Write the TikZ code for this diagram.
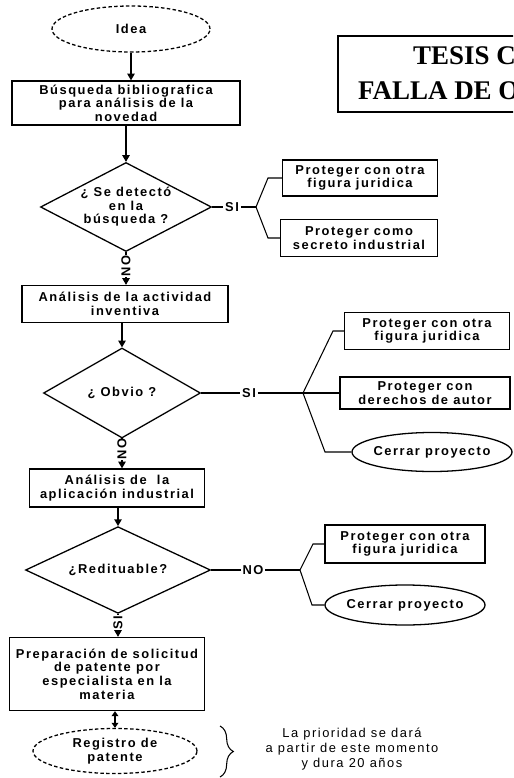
\documentclass[tikz,border=0pt]{standalone}
\usepackage{fontspec}
\setmainfont{Liberation Sans}
\newfontfamily\flujo[LetterSpace=12]{Liberation Sans}
\newfontfamily\sello{Liberation Serif}
\usetikzlibrary{shapes.geometric,arrows.meta,decorations.pathreplacing}

\tikzset{
  texto/.style={font=\flujo\bfseries\fontsize{11}{11.6}\selectfont},
  caja/.style={texto, draw, line width=1.1pt, align=center, inner sep=1pt},
  decision/.style={texto, draw, diamond, line width=1.1pt, align=center, inner sep=0pt},
  terminal/.style={texto, draw, ellipse, line width=1.1pt, align=center, inner xsep=-7mm, inner ysep=-2mm},
  etiqueta/.style={texto, inner sep=1.5pt},
  vertical/.style={texto, inner sep=0.5pt, rotate=90},
  flecha/.style={line width=1.1pt, -{Triangle[length=2mm,width=2.2mm]}},
  rama/.style={line width=0.9pt},
}

\begin{document}
\begin{tikzpicture}[x=0.3mm, y=-0.3mm]
  \useasboundingbox (0,0) rectangle (513,778);

  \begin{scope}
    \clip (0,0) rectangle (513,778);
    \draw[line width=1.1pt] (338,36) rectangle (600,112);
    \node[anchor=base west, inner sep=0pt, font=\sello\bfseries\fontsize{23}{23}\selectfont] (tesis) at (413,65) {TESIS CON};
    \node[anchor=base west, inner sep=0pt, font=\sello\bfseries\fontsize{23}{23}\selectfont] (falla) at (358,100) {FALLA DE ORIGEN};
  \end{scope}

  \node[terminal, densely dashed, minimum width=47.4mm, minimum height=13.8mm] (idea) at (131,29) {Idea};
  \node[caja, minimum width=68.4mm, minimum height=13.2mm] (busq) at (126,103)
    {Búsqueda bibliografica\\para análisis de la\\novedad};
  \node[decision, shape aspect=1.9, minimum width=51.3mm, minimum height=26.7mm] (dec1) at (126,207)
    {¿ Se detectó\\en la\\búsqueda ?};
  \node[caja, minimum width=46.5mm, minimum height=10.8mm] (prot1) at (360,178)
    {Proteger con otra\\figura juridica};
  \node[caja, minimum width=47.1mm, minimum height=11.1mm] (secr) at (359,238)
    {Proteger como\\secreto industrial};
  \node[etiqueta] (si1) at (232,207) {SI};
  \node[vertical] (no1) at (126,266) {NO};
  \coordinate (b1) at (256,207);
  \coordinate (b1a) at (268,178);
  \coordinate (b1b) at (268,238);

  \node[caja, minimum width=61.8mm, minimum height=11.1mm] (act) at (125,304)
    {Análisis de la actividad\\inventiva};
  \node[decision, shape aspect=1.7, minimum width=47.1mm, minimum height=27mm] (dec2) at (122,393)
    {¿ Obvio ?};
  \node[caja, minimum width=49.5mm, minimum height=11.1mm] (prot2) at (427,331)
    {Proteger con otra\\figura juridica};
  \node[caja, minimum width=51mm, minimum height=9.6mm] (der) at (425,393)
    {Proteger con\\derechos de autor};
  \node[terminal, minimum width=48mm, minimum height=11.7mm] (cerr1) at (432,452) {Cerrar\ proyecto};
  \node[etiqueta] (si2) at (249,393) {SI};
  \node[vertical] (no2) at (122,449) {NO};
  \coordinate (b2) at (303,393);
  \coordinate (b2a) at (333,331);
  \coordinate (b2b) at (325,452);

  \node[caja, minimum width=52.5mm, minimum height=11.4mm] (apl) at (117,488)
    {Análisis de\ \ la\\aplicación industrial};
  \node[decision, shape aspect=2, minimum width=55.5mm, minimum height=26mm] (dec3) at (118,570)
    {¿Redituable?};
  \node[caja, minimum width=48mm, minimum height=11.4mm] (prot3) at (405,544)
    {Proteger con otra\\figura juridica};
  \node[terminal, minimum width=48mm, minimum height=12mm] (cerr2) at (405,605) {Cerrar\ proyecto};
  \node[etiqueta] (no3) at (253,570) {NO};
  \node[vertical] (si3) at (118,623) {SI};
  \coordinate (b3) at (300,570);
  \coordinate (b3a) at (313,544);
  \coordinate (b3b) at (312,605);

  \node[caja, minimum width=58.5mm, minimum height=21.9mm] (prep) at (107,674)
    {Preparación de solicitud\\de patente por\\especialista en la\\materia};
  \node[terminal, densely dashed, minimum width=49.2mm, minimum height=13.5mm] (reg) at (115,751)
    {Registro de\\patente};
  \coordinate (ll1) at (220,726);
  \coordinate (ll2) at (220,777);
  \node[align=center, font=\flujo\fontsize{11}{12.8}\selectfont] (nota) at (352,749)
    {La prioridad se dará\\a partir de este momento\\y dura 20 años};

  \draw[flecha] (idea.south) -- (idea.south |- busq.north);
  \draw[flecha] (busq.south -| dec1.north) -- (dec1.north);
  \draw[rama] (dec1.east) -- (si1);
  \draw[rama] (si1) -- (b1);
  \draw[rama] (b1) -- (b1a) -- (b1a -| prot1.west);
  \draw[rama] (b1) -- (b1b) -- (b1b -| secr.west);
  \draw[rama] (dec1.south) -- (no1);
  \draw[flecha] (no1) -- (no1 |- act.north);

  \draw[flecha] (act.south -| dec2.north) -- (dec2.north);
  \draw[rama] (dec2.east) -- (si2);
  \draw[rama] (si2) -- (b2);
  \draw[rama] (b2) -- (b2a) -- (b2a -| prot2.west);
  \draw[rama] (b2) -- (der.west);
  \draw[rama] (b2) -- (b2b) -- (cerr1.west);
  \draw[rama] (dec2.south) -- (no2);
  \draw[flecha] (no2) -- (no2 |- apl.north);

  \draw[flecha] (apl.south -| dec3.north) -- (dec3.north);
  \draw[rama] (dec3.east) -- (no3);
  \draw[rama] (no3) -- (b3);
  \draw[rama] (b3) -- (b3a) -- (b3a -| prot3.west);
  \draw[rama] (b3) -- (b3b) -- (cerr2.west);
  \draw[rama] (dec3.south) -- (si3);
  \draw[flecha] (si3) -- (si3 |- prep.north);

  \draw[line width=1.1pt, {Triangle[length=1.5mm,width=2mm]}-{Triangle[length=1.5mm,width=2mm]}] (prep.south -| reg.north) -- (reg.north);
  \draw[decorate, decoration={brace, amplitude=4mm}, line width=0.9pt] (ll1) -- (ll2);
\end{tikzpicture}
\end{document}
